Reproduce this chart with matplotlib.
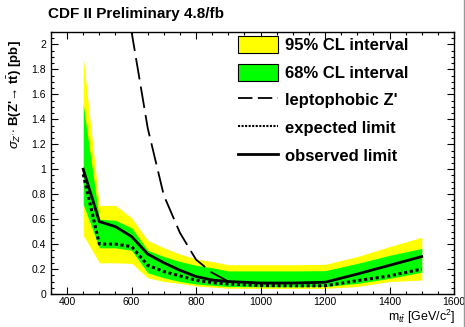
import matplotlib
matplotlib.use('Agg')
import matplotlib.pyplot as plt
from matplotlib.patches import Patch
from matplotlib.lines import Line2D
from matplotlib.ticker import MultipleLocator

plt.rcParams['font.family'] = ['Liberation Sans', 'DejaVu Sans']
plt.rcParams['mathtext.fontset'] = 'custom'
plt.rcParams['mathtext.rm'] = 'Liberation Sans'
plt.rcParams['mathtext.it'] = 'Liberation Sans:italic'
plt.rcParams['mathtext.bf'] = 'Liberation Sans:bold'

# Z' mass points [GeV/c^2]
mass = [450, 500, 550, 600, 650, 700, 750, 800, 850, 900, 1000, 1100, 1200, 1300, 1400, 1500]
# observed / expected limits [pb]
observed = [1.00, 0.58, 0.54, 0.46, 0.32, 0.25, 0.19, 0.14, 0.112, 0.10, 0.088, 0.088, 0.094, 0.16, 0.23, 0.30]
expected = [0.96, 0.40, 0.40, 0.38, 0.23, 0.18, 0.145, 0.11, 0.092, 0.08, 0.068, 0.066, 0.066, 0.107, 0.145, 0.20]
# bands
up95 = [1.90, 0.71, 0.71, 0.61, 0.43, 0.37, 0.32, 0.28, 0.26, 0.235, 0.235, 0.235, 0.238, 0.30, 0.38, 0.455]
up68 = [1.52, 0.60, 0.59, 0.53, 0.35, 0.30, 0.26, 0.23, 0.21, 0.185, 0.185, 0.185, 0.187, 0.245, 0.31, 0.365]
lo68 = [0.72, 0.37, 0.37, 0.35, 0.17, 0.13, 0.10, 0.08, 0.07, 0.06, 0.058, 0.058, 0.06, 0.085, 0.125, 0.175]
lo95 = [0.47, 0.25, 0.25, 0.245, 0.13, 0.10, 0.085, 0.065, 0.055, 0.046, 0.045, 0.045, 0.045, 0.06, 0.10, 0.112]
# leptophobic Z' theory curve
mass_lep = [590, 600, 650, 700, 750, 800, 850, 900]
sigma_lep = [2.35, 2.10, 1.33, 0.79, 0.49, 0.275, 0.17, 0.10]

fig = plt.figure(figsize=(4.65, 3.27), dpi=100)
ax = fig.add_axes([51/465, 1-294/327, 403/465, 262/327])

ax.fill_between(mass, lo95, up95, color='#ffff00', lw=0, zorder=1)
ax.fill_between(mass, lo68, up68, color='#00ff00', lw=0, zorder=2)
ax.plot(mass_lep, sigma_lep, color='black', lw=1.3, ls=(0, (12, 4)), zorder=3)
ax.plot(mass, expected, color='black', lw=2.2, ls=(0, (1, 0.9)), zorder=4)
ax.plot(mass, observed, color='black', lw=2.0, zorder=5)

ax.set_xlim(350, 1600)
ax.set_ylim(0, 2.1)
ax.xaxis.set_major_locator(MultipleLocator(200))
ax.xaxis.set_minor_locator(MultipleLocator(50))
ax.yaxis.set_major_locator(MultipleLocator(0.2))
ax.yaxis.set_minor_locator(MultipleLocator(0.05))
ax.yaxis.set_major_formatter(matplotlib.ticker.FuncFormatter(lambda v, p: f'{v:g}'))
ax.tick_params(which='both', direction='in', top=True, right=True, labelsize=7.5, width=0.8)
ax.tick_params(which='major', length=5)
ax.tick_params(which='minor', length=2.5)
ax.tick_params(axis='x', pad=2.5)
for s in ax.spines.values():
    s.set_linewidth(1.0)

handles = [Patch(facecolor='#ffff00', edgecolor='black', lw=0.8),
           Patch(facecolor='#00ff00', edgecolor='black', lw=0.8),
           Line2D([], [], color='black', lw=1.3, ls=(0, (8, 3))),
           Line2D([], [], color='black', lw=1.5, ls=(0, (1, 0.7))),
           Line2D([], [], color='black', lw=2.0)]
labels = ['95% CL interval', '68% CL interval', "leptophobic Z'", 'expected limit', 'observed limit']
leg = ax.legend(handles, labels, loc='upper left', bbox_to_anchor=(0.463, 0.985),
                frameon=False, prop={'size': 12, 'weight': 'bold'},
                handlelength=2.4, handleheight=1.2, labelspacing=0.63,
                handletextpad=0.45, borderpad=0, borderaxespad=0)

fig.text(48/465, 1-14/327, 'CDF II Preliminary 4.8/fb', fontsize=11, fontweight='bold',
         ha='left', va='center')
fig.text(455/465, 1-317/327, r'm$_{t\bar{t}}$ [GeV/c$^2$]', fontsize=9, ha='right', va='center')
fig.text(15/465, 1-95/327, "$\\sigma_{Z'}$$\\cdot$ B(Z'\u2192 t$\\bar{\\mathbf{t}}$) [pb]",
         fontsize=9.5, fontweight='bold', rotation=90, ha='center', va='center')

fig.add_artist(Line2D([463.5/465, 463.5/465], [0, 1], color='#999999', lw=1.0))

fig.savefig('out.png', dpi=100)
